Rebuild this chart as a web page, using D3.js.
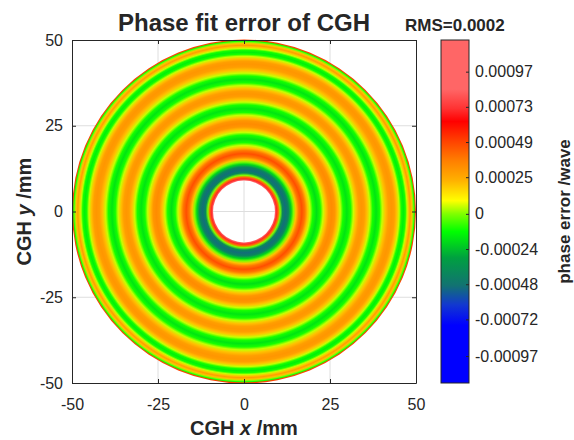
<!DOCTYPE html>
<html>
<head>
<meta charset="utf-8">
<script src="https://cdn.jsdelivr.net/npm/d3@7"></script>
<style>
  body { margin: 0; background: #fff; }
  text { font-family: "Liberation Sans", Arial, Helvetica, sans-serif; fill: #262626; }
</style>
</head>
<body>
<div id="chart"></div>
<script>
// radial profile of the CGH phase fit error (r in mm)
var radius   = [9.0, 9.5, 10.0, 10.5, 11.2, 12.0, 12.9, 13.7, 14.4, 15.1, 15.9, 16.8, 17.7, 18.5, 19.2, 20.0, 21.1,
                22.2, 23.0, 23.8, 24.6, 25.5, 26.4, 27.2, 28.0, 28.8, 29.9, 31.0, 31.8, 32.6, 33.4, 34.2,
                35.0, 35.8, 36.6, 37.4, 38.4, 39.4, 40.2, 41.1, 42.0, 42.9, 43.7, 44.4, 45.1, 45.7, 46.3,
                46.9, 47.4, 47.9, 48.3, 48.8, 49.2, 49.5, 49.8, 50.0];
var phaseErr = [0.0009, 0.0007, 0.0004, 0.0, -0.0004, -0.0005, -0.00042, -0.0002, 0.0, 0.0002, 0.00038, 0.00047, 0.00038, 0.0002, 0.00005, -0.0001, -0.00018,
                -0.0001, 0.00005, 0.0002, 0.0003, 0.00033, 0.0003, 0.0002, 0.00005, -0.0001, -0.00017, -0.0001, 0.00005, 0.0002, 0.00028, 0.0003,
                0.00028, 0.0002, 0.00005, -0.0001, -0.00017, -0.0001, 0.00005, 0.0002, 0.00028, 0.0003, 0.00028, 0.0002, 0.00005, -0.0001, -0.00015,
                -0.0001, 0.00005, 0.0002, 0.00028, 0.0002, 0.0, -0.0001, 0.0005, 0.0005];

var axisTicks    = [-50, -25, 0, 25, 50];
var cbTicks      = [0.00097, 0.00073, 0.00049, 0.00025, 0, -0.00024, -0.00048, -0.00072, -0.00097];
var cbTickLabels = ["0.00097", "0.00073", "0.00049", "0.00025", "0", "-0.00024", "-0.00048", "-0.00072", "-0.00097"];
var cbRange      = [-0.001154, 0.001186];

// colormap used by the colorbar (blue -> teal -> green -> yellow -> orange -> red -> light red)
var cmapValues = [-0.001154, -0.00076, -0.00062, -0.00049, -0.0003, -0.00012, 0.0, 0.00009, 0.00023, 0.00036, 0.0005, 0.00063, 0.00072, 0.00085, 0.001186];
var cmapColors = ["#0000ff", "#0000ff", "#1238d0", "#127272", "#00a040", "#00ff00", "#80ff00", "#ffff00", "#ffb000", "#ff8000", "#ff4000", "#ff0000", "#ff3333", "#ff6666", "#ff6666"];

var titleText = "Phase fit error of CGH";
var rmsText   = "RMS=0.0002";

var W = 574, H = 440;
var plot = {left: 72, top: 40, width: 344, height: 343};

var svg = d3.select("#chart").append("svg")
  .attr("width", W)
  .attr("height", H);

var x = d3.scaleLinear().domain([-50, 50]).range([plot.left, plot.left + plot.width]);
var y = d3.scaleLinear().domain([-50, 50]).range([plot.top + plot.height, plot.top]);
var color = d3.scaleLinear().domain(cmapValues).range(cmapColors).clamp(true);

var defs = svg.append("defs");

// grid (behind the image)
var grid = svg.append("g").attr("class", "grid");
grid.selectAll(".gx").data(axisTicks.slice(1, -1)).enter().append("line")
  .attr("x1", function(d) { return x(d); }).attr("x2", function(d) { return x(d); })
  .attr("y1", plot.top).attr("y2", plot.top + plot.height)
  .attr("stroke", "#dedede").attr("stroke-width", 1);
grid.selectAll(".gy").data(axisTicks.slice(1, -1)).enter().append("line")
  .attr("y1", function(d) { return y(d); }).attr("y2", function(d) { return y(d); })
  .attr("x1", plot.left).attr("x2", plot.left + plot.width)
  .attr("stroke", "#dedede").attr("stroke-width", 1);

// the ring image: annulus filled with a radial gradient built from the profile
var rPx = x(radius[radius.length - 1]) - x(0);
var ringGrad = defs.append("radialGradient")
  .attr("id", "ringGrad")
  .attr("gradientUnits", "userSpaceOnUse")
  .attr("cx", 0).attr("cy", 0).attr("r", rPx);
ringGrad.selectAll("stop").data(radius).enter().append("stop")
  .attr("offset", function(d) { return d / radius[radius.length - 1]; })
  .attr("stop-color", function(d, i) { return color(phaseErr[i]); });

var arc = d3.arc()
  .innerRadius(x(radius[0]) - x(0))
  .outerRadius(rPx)
  .startAngle(0)
  .endAngle(2 * Math.PI);

svg.append("g")
  .attr("transform", "translate(" + x(0) + "," + y(0) + ")")
  .append("path")
  .attr("d", arc())
  .attr("fill", "url(#ringGrad)");

// axes
var fmt = function(d) { return String(d); };
var xAxisB = d3.axisBottom(x).tickValues(axisTicks).tickFormat(fmt).tickSizeInner(-4).tickSizeOuter(0).tickPadding(16);
var xAxisT = d3.axisTop(x).tickValues(axisTicks).tickSizeInner(-4).tickSizeOuter(0).tickFormat("");
var yAxisL = d3.axisLeft(y).tickValues(axisTicks).tickFormat(fmt).tickSizeInner(-4).tickSizeOuter(0).tickPadding(9);
var yAxisR = d3.axisRight(y).tickValues(axisTicks).tickSizeInner(-4).tickSizeOuter(0).tickFormat("");

function styleAxis(g) {
  g.select(".domain").attr("stroke", "#262626");
  g.selectAll(".tick line").attr("stroke", "#262626");
  g.selectAll(".tick text").attr("font-size", 16).attr("fill", "#333")
    .style("font-family", "'Liberation Sans', Arial, sans-serif");
}

svg.append("g").attr("transform", "translate(0," + (plot.top + plot.height) + ")").call(xAxisB).call(styleAxis);
svg.append("g").attr("transform", "translate(0," + plot.top + ")").call(xAxisT).call(styleAxis);
svg.append("g").attr("transform", "translate(" + plot.left + ",0)").call(yAxisL).call(styleAxis);
svg.append("g").attr("transform", "translate(" + (plot.left + plot.width) + ",0)").call(yAxisR).call(styleAxis);

// titles and labels
svg.append("text")
  .attr("x", x(0)).attr("y", 31)
  .attr("text-anchor", "middle")
  .attr("font-size", 24).attr("font-weight", "bold")
  .text(titleText);

svg.append("text")
  .attr("x", 405).attr("y", 31)
  .attr("font-size", 17).attr("font-weight", "bold")
  .text(rmsText);

var xl = svg.append("text")
  .attr("x", x(0)).attr("y", 435)
  .attr("text-anchor", "middle")
  .attr("font-size", 20).attr("font-weight", "bold");
xl.append("tspan").text("CGH ");
xl.append("tspan").attr("font-style", "italic").text("x");
xl.append("tspan").text(" /mm");

var yl = svg.append("text")
  .attr("transform", "translate(31," + y(0) + ") rotate(-90)")
  .attr("text-anchor", "middle")
  .attr("font-size", 20).attr("font-weight", "bold");
yl.append("tspan").text("CGH ");
yl.append("tspan").attr("font-style", "italic").text("y");
yl.append("tspan").text(" /mm");

// colorbar
var cb = {left: 441, width: 28};
var cbY = d3.scaleLinear().domain(cbRange).range([plot.top + plot.height, plot.top]);

var cbGrad = defs.append("linearGradient")
  .attr("id", "cbGrad")
  .attr("gradientUnits", "userSpaceOnUse")
  .attr("x1", 0).attr("x2", 0)
  .attr("y1", cbY(cbRange[0])).attr("y2", cbY(cbRange[1]));
cbGrad.selectAll("stop").data(cmapValues).enter().append("stop")
  .attr("offset", function(d) { return (d - cbRange[0]) / (cbRange[1] - cbRange[0]); })
  .attr("stop-color", function(d, i) { return cmapColors[i]; });

svg.append("rect")
  .attr("x", cb.left).attr("y", plot.top)
  .attr("width", cb.width).attr("height", plot.height)
  .attr("fill", "url(#cbGrad)")
  .attr("stroke", "#262626").attr("stroke-width", 1);

var cbAxis = d3.axisRight(cbY)
  .tickValues(cbTicks)
  .tickFormat(function(d, i) { return cbTickLabels[i]; })
  .tickSizeInner(-3).tickSizeOuter(0).tickPadding(6);

svg.append("g")
  .attr("transform", "translate(" + (cb.left + cb.width) + ",0)")
  .call(cbAxis)
  .call(styleAxis)
  .select(".domain").remove();

svg.append("text")
  .attr("transform", "translate(570," + y(0) + ") rotate(-90)")
  .attr("text-anchor", "middle")
  .attr("font-size", 17).attr("font-weight", "bold")
  .text("phase error /wave");
</script>
</body>
</html>
